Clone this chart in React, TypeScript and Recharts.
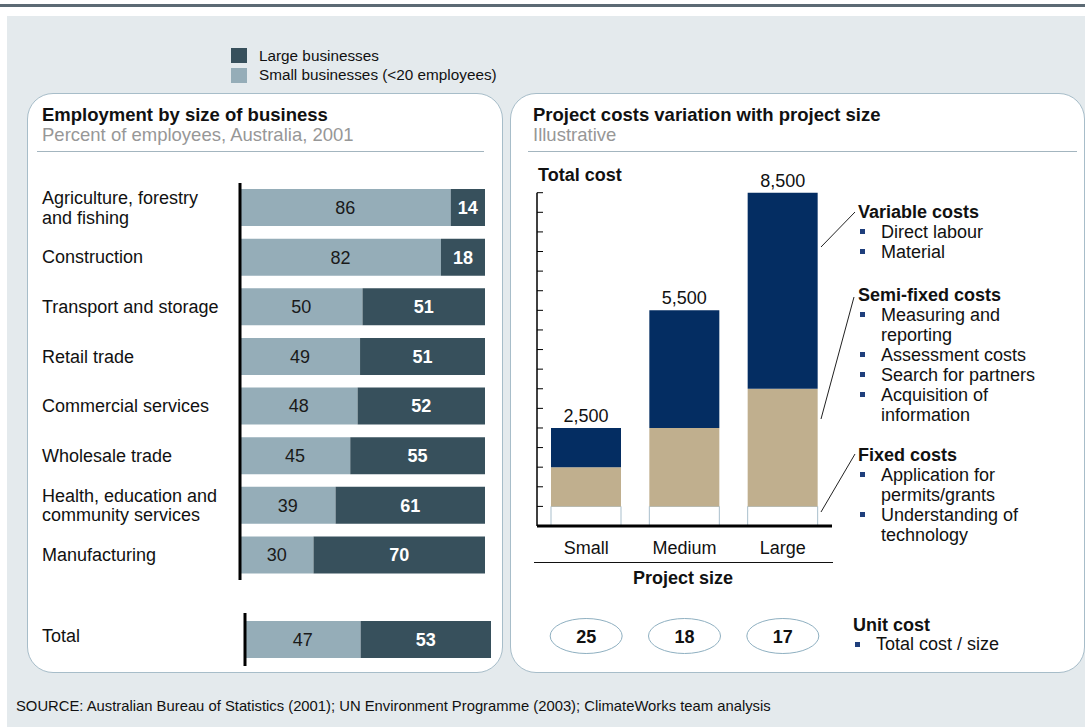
import React from "react";
import { BarChart, Bar, XAxis, YAxis, LabelList } from "recharts";

const FONT = '"Liberation Sans", Arial, Helvetica, sans-serif';

// employment by size of business (percent of employees)
const sectors = [
  "Agriculture, forestry\nand fishing",
  "Construction",
  "Transport and storage",
  "Retail trade",
  "Commercial services",
  "Wholesale trade",
  "Health, education and\ncommunity services",
  "Manufacturing",
];
const smallShare = [86, 82, 50, 49, 48, 45, 39, 30];
const largeShare = [14, 18, 51, 51, 52, 55, 61, 70];
const totalName = ["Total"];
const totalSmall = [47];
const totalLarge = [53];

// project costs (illustrative)
const sizes = ["Small", "Medium", "Large"];
const fixedCost = [500, 500, 500];
const semiFixedCost = [1000, 2000, 3000];
const variableCost = [1000, 3000, 5000];
const totalLabels = ["2,500", "5,500", "8,500"];
const unitCost = [25, 18, 17];
const costTicks = [0, 500, 1000, 1500, 2000, 2500, 3000, 3500, 4000, 4500, 5000, 5500, 6000, 6500, 7000, 7500, 8000, 8500];

const SMALL = "#95adb8";
const LARGE = "#37505c";
const NAVY = "#042d62";
const TAN = "#c0af8e";
const BORDER = "#a7bdc9";

const sectorRows = sectors.map((name, i) => ({ name, small: smallShare[i], large: largeShare[i] }));
const totalRows = totalName.map((name, i) => ({ name, small: totalSmall[i], large: totalLarge[i] }));
const costRows = sizes.map((size, i) => ({
  size,
  fixed: fixedCost[i],
  semi: semiFixedCost[i],
  variable: variableCost[i],
  totalLabel: totalLabels[i],
}));

function SectorTick(props: any) {
  const { y, payload, shift = 0 } = props;
  const lines = String(payload.value).split("\n");
  const lh = 19.5;
  const y0 = y + shift - ((lines.length - 1) * lh) / 2;
  return (
    <text x={42} y={y0} fontSize={18} fill="#111" dominantBaseline="central">
      {lines.map((l, i) => (
        <tspan key={i} x={42} y={y0 + i * lh} dominantBaseline="central">
          {l}
        </tspan>
      ))}
    </text>
  );
}

function SizeTick(props: any) {
  const { x, payload } = props;
  const i = sizes.indexOf(payload.value);
  return (
    <g>
      <text x={x} y={548} textAnchor="middle" dominantBaseline="central" fontSize={18} fill="#111">
        {payload.value}
      </text>
      <ellipse cx={x} cy={636} rx={36} ry={17.5} fill="#fff" stroke="#8fb0c1" strokeWidth={1} />
      <text x={x} y={637} textAnchor="middle" dominantBaseline="central" fontSize={18} fontWeight="bold" fill="#111">
        {unitCost[i]}
      </text>
    </g>
  );
}

const abs = (left: number, top: number, extra: React.CSSProperties = {}): React.CSSProperties => ({
  position: "absolute",
  left,
  top,
  whiteSpace: "pre",
  ...extra,
});

function Bullet({ text }: { text: string }) {
  return (
    <div style={{ position: "relative", paddingLeft: 23 }}>
      <span style={{ position: "absolute", left: 2, top: 7, width: 5, height: 5, background: "#1f3f7c" }} />
      {text}
    </div>
  );
}

function Note({ left, top, title, items }: { left: number; top: number; title: string; items: string[] }) {
  return (
    <div style={abs(left, top, { fontSize: 18, lineHeight: "20px", color: "#111" })}>
      <div style={{ fontWeight: "bold" }}>{title}</div>
      {items.map((t, i) => (
        <Bullet key={i} text={t} />
      ))}
    </div>
  );
}

export default function App() {
  return (
    <div style={{ position: "absolute", left: 0, top: 0, width: 1085, height: 727, overflow: "hidden", background: "#fff", fontFamily: FONT }}>
      <div style={{ position: "absolute", left: 0, top: 4, width: 1085, height: 2.5, background: "#5c6a74" }} />
      <div style={{ position: "absolute", left: 7, top: 16, width: 1078, height: 711, background: "#e4eaed" }} />

      {/* legend */}
      <div style={{ position: "absolute", left: 231, top: 48, width: 16, height: 15, background: LARGE }} />
      <div style={{ position: "absolute", left: 231, top: 68, width: 16, height: 15, background: SMALL }} />
      <div style={abs(259, 46, { fontSize: 15.3, lineHeight: "19px", color: "#111" })}>
        <div>Large businesses</div>
        <div>Small businesses (&lt;20 employees)</div>
      </div>

      {/* panels */}
      <div style={{ position: "absolute", left: 27, top: 93, width: 476, height: 580, boxSizing: "border-box", border: `1px solid ${BORDER}`, borderRadius: 26, background: "#fff" }} />
      <div style={{ position: "absolute", left: 510, top: 93, width: 575, height: 580, boxSizing: "border-box", border: `1px solid ${BORDER}`, borderRadius: 26, background: "#fff" }} />

      <div style={abs(42, 104, { fontSize: 18.5, fontWeight: "bold", lineHeight: "22px", color: "#111" })}>Employment by size of business</div>
      <div style={abs(42, 124, { fontSize: 18.5, lineHeight: "22px", color: "#979797" })}>Percent of employees, Australia, 2001</div>
      <div style={{ position: "absolute", left: 37, top: 151, width: 447, height: 1, background: "#a3b5bf" }} />

      <div style={abs(533, 104, { fontSize: 18.5, fontWeight: "bold", lineHeight: "22px", color: "#111" })}>Project costs variation with project size</div>
      <div style={abs(533, 124, { fontSize: 18.5, lineHeight: "22px", color: "#979797" })}>Illustrative</div>
      <div style={{ position: "absolute", left: 528, top: 151, width: 549, height: 1, background: "#a3b5bf" }} />

      <div style={abs(538, 164, { fontSize: 18, fontWeight: "bold", lineHeight: "22px", color: "#111" })}>Total cost</div>

      {/* employment by sector */}
      <div style={{ position: "absolute", left: 0, top: 0 }}>
        <BarChart width={500} height={600} data={sectorRows} layout="vertical" margin={{ top: 183, right: 15, bottom: 20, left: 0 }} barSize={37}>
          <XAxis type="number" domain={[0, 100]} allowDataOverflow hide />
          <YAxis
            type="category"
            dataKey="name"
            width={240}
            interval={0}
            axisLine={{ stroke: "#000", strokeWidth: 3 }}
            tickLine={false}
            tick={(p: any) => <SectorTick {...p} />}
          />
          <Bar dataKey="small" stackId="a" fill={SMALL} isAnimationActive={false}>
            <LabelList dataKey="small" position="center" fill="#1a1a1a" fontSize={18} />
          </Bar>
          <Bar dataKey="large" stackId="a" fill={LARGE} isAnimationActive={false}>
            <LabelList dataKey="large" position="center" fill="#fff" fontSize={18} fontWeight="bold" />
          </Bar>
        </BarChart>
      </div>

      {/* total */}
      <div style={{ position: "absolute", left: 0, top: 0 }}>
        <BarChart width={500} height={700} data={totalRows} layout="vertical" margin={{ top: 613, right: 9, bottom: 34, left: 0 }} barSize={37}>
          <XAxis type="number" domain={[0, 100]} hide />
          <YAxis
            type="category"
            dataKey="name"
            width={245}
            axisLine={{ stroke: "#000", strokeWidth: 3 }}
            tickLine={false}
            tick={(p: any) => <SectorTick {...p} shift={-4} />}
          />
          <Bar dataKey="small" stackId="a" fill={SMALL} isAnimationActive={false}>
            <LabelList dataKey="small" position="center" fill="#1a1a1a" fontSize={18} />
          </Bar>
          <Bar dataKey="large" stackId="a" fill={LARGE} isAnimationActive={false}>
            <LabelList dataKey="large" position="center" fill="#fff" fontSize={18} fontWeight="bold" />
          </Bar>
        </BarChart>
      </div>

      {/* project costs */}
      <div style={{ position: "absolute", left: 0, top: 0 }}>
        <BarChart width={860} height={700} data={costRows} margin={{ top: 192.7, right: 28, bottom: 144, left: 537 }} barSize={70}>
          <XAxis
            dataKey="size"
            height={30}
            axisLine={{ stroke: "#000", strokeWidth: 3 }}
            tickLine={false}
            interval={0}
            tick={(p: any) => <SizeTick {...p} />}
          />
          <YAxis
            type="number"
            domain={[0, 8500]}
            ticks={costTicks}
            interval={0}
            width={1}
            mirror
            tick={() => <g />}
            tickSize={6}
            axisLine={{ stroke: "#000", strokeWidth: 1.5 }}
            tickLine={{ stroke: "#000", strokeWidth: 1 }}
          />
          <Bar dataKey="fixed" stackId="c" fill="#fff" stroke="#a9bfcc" strokeWidth={1} isAnimationActive={false} />
          <Bar dataKey="semi" stackId="c" fill={TAN} isAnimationActive={false} />
          <Bar dataKey="variable" stackId="c" fill={NAVY} isAnimationActive={false}>
            <LabelList dataKey="totalLabel" position="top" offset={6} fill="#111" fontSize={18} />
          </Bar>
        </BarChart>
      </div>

      <svg style={{ position: "absolute", left: 0, top: 0 }} width={1085} height={727}>
        <line x1={534} y1={562.5} x2={833} y2={562.5} stroke="#111" strokeWidth={1} />
        <text x={683} y={578} textAnchor="middle" dominantBaseline="central" fontSize={18} fontWeight="bold" fill="#111">
          Project size
        </text>
        <line x1={821} y1={247} x2={855} y2={212} stroke="#222" strokeWidth={1} />
        <line x1={821} y1={419} x2={854} y2={297} stroke="#222" strokeWidth={1} />
        <line x1={821} y1={512} x2={855} y2={454} stroke="#222" strokeWidth={1} />
      </svg>

      <Note left={858} top={202} title="Variable costs" items={["Direct labour", "Material"]} />
      <Note
        left={858}
        top={285}
        title="Semi-fixed costs"
        items={["Measuring and\nreporting", "Assessment costs", "Search for partners", "Acquisition of\ninformation"]}
      />
      <Note left={858} top={445} title="Fixed costs" items={["Application for\npermits/grants", "Understanding of\ntechnology"]} />
      <div style={abs(853, 616, { fontSize: 18, lineHeight: "19px", color: "#111" })}>
        <div style={{ fontWeight: "bold" }}>Unit cost</div>
        <Bullet text="Total cost / size" />
      </div>

      <div style={abs(16, 697, { fontSize: 14.8, lineHeight: "18px", color: "#111" })}>
        SOURCE: Australian Bureau of Statistics (2001); UN Environment Programme (2003); ClimateWorks team analysis
      </div>
    </div>
  );
}
